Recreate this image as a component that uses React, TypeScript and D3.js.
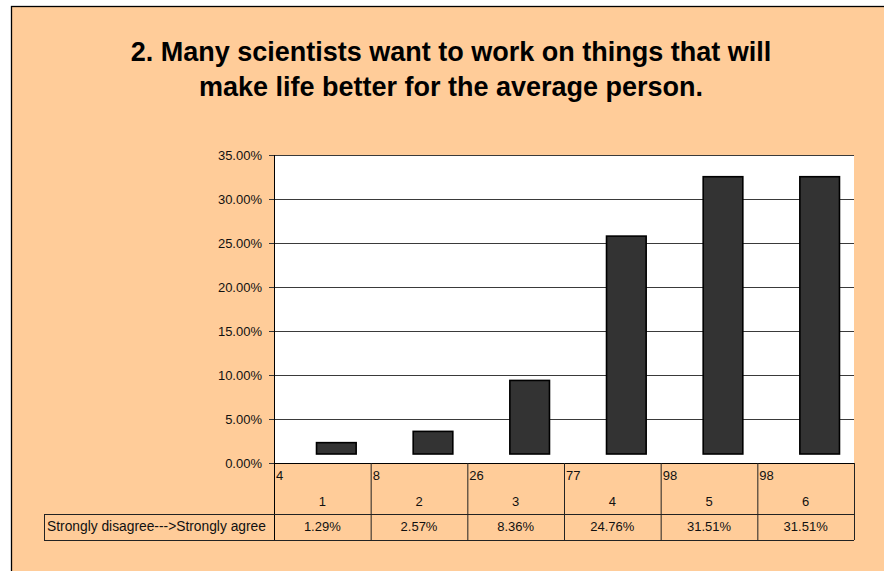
import React from "react";
import * as d3 from "d3";

const categories = ["1", "2", "3", "4", "5", "6"];
const counts = [4, 8, 26, 77, 98, 98];
const percents = [1.29, 2.57, 8.36, 24.76, 31.51, 31.51];
const percentLabels = ["1.29%", "2.57%", "8.36%", "24.76%", "31.51%", "31.51%"];
const yTicks = [0, 5, 10, 15, 20, 25, 30, 35];
const rowLabel = "Strongly disagree--->Strongly agree";
const titleLines = [
  "2. Many scientists want to work on things that will",
  "make life better for the average person.",
];

const W = 884;
const H = 571;
const plotL = 274;
const plotR = 854;
const plotT = 155;
const plotB = 463;
const row1B = 514;
const row2B = 540;
const labelL = 44;
const font = "Arial, 'Liberation Sans', Helvetica, sans-serif";

export default function App() {
  const y = d3.scaleLinear().domain([0, 35]).range([plotB, plotT]);
  const cols = d3.scaleBand<string>().domain(categories).range([plotL, plotR]);
  const xb = d3
    .scaleBand<string>()
    .domain(categories)
    .range([plotL, plotR])
    .paddingInner(0.59)
    .paddingOuter(0.295);
  const dx = 14;
  const dy = -9;
  const fmt = (v: number) => v.toFixed(2) + "%";

  return (
    <svg
      width={W}
      height={H}
      style={{ position: "absolute", left: 0, top: 0, display: "block" }}
      fontFamily={font}
    >
      <rect x={0} y={0} width={W} height={H} fill="#ffffff" />
      <rect x={11.5} y={6.5} width={W + 40} height={H + 40} fill="#ffcc99" stroke="#000" strokeWidth={1.3} />

      {titleLines.map((t, i) => (
        <text
          key={i}
          x={451}
          y={61 + i * 35}
          textAnchor="middle"
          fontSize={27}
          fontWeight="bold"
          fill="#000"
        >
          {t}
        </text>
      ))}

      <rect x={plotL} y={plotT} width={plotR - plotL} height={plotB - plotT} fill="#ffffff" />

      {yTicks.map((t) => (
        <g key={t}>
          {t > 0 && (
            <line x1={plotL} x2={plotR} y1={y(t) + 0.5} y2={y(t) + 0.5} stroke="#3a3a3a" strokeWidth={1} />
          )}
          <line x1={plotL - 5} x2={plotL} y1={y(t) + 0.5} y2={y(t) + 0.5} stroke="#333" strokeWidth={1} />
          <text x={262} y={y(t) + 4.5} textAnchor="end" fontSize={13} fill="#111">
            {fmt(t)}
          </text>
        </g>
      ))}

      {categories.map((c, i) => (
        <rect
          key={c}
          x={(xb(c) as number) + dx}
          y={y(percents[i]) + dy}
          width={xb.bandwidth()}
          height={y(0) - y(percents[i])}
          fill="#333333"
          stroke="#000"
          strokeWidth={1.6}
        />
      ))}

      <line x1={plotL + 0.5} x2={plotL + 0.5} y1={plotT} y2={row2B} stroke="#000" strokeWidth={1} />
      <line x1={plotL} x2={plotR} y1={plotB + 0.5} y2={plotB + 0.5} stroke="#000" strokeWidth={1} />

      {/* data table */}
      <line x1={labelL} x2={plotR} y1={row1B + 0.5} y2={row1B + 0.5} stroke="#222" strokeWidth={1} />
      <line x1={labelL} x2={plotR} y1={row2B + 0.5} y2={row2B + 0.5} stroke="#222" strokeWidth={1} />
      <line x1={labelL + 0.5} x2={labelL + 0.5} y1={row1B} y2={row2B} stroke="#222" strokeWidth={1} />
      <text x={47} y={row1B + 17} fontSize={13.8} fill="#111">
        {rowLabel}
      </text>
      {categories.map((c, i) => {
        const x0 = cols(c) as number;
        const x1 = x0 + cols.bandwidth();
        const cx = x0 + cols.bandwidth() / 2;
        return (
          <g key={c}>
            <line x1={x1 + 0.5} x2={x1 + 0.5} y1={plotB} y2={row2B} stroke="#222" strokeWidth={1} />
            <text x={x0 + 2} y={plotB + 17} fontSize={13} fill="#111">
              {counts[i]}
            </text>
            <text x={cx} y={plotB + 43} textAnchor="middle" fontSize={13} fill="#111">
              {c}
            </text>
            <text x={cx} y={row1B + 17} textAnchor="middle" fontSize={13} fill="#111">
              {percentLabels[i]}
            </text>
          </g>
        );
      })}
    </svg>
  );
}
